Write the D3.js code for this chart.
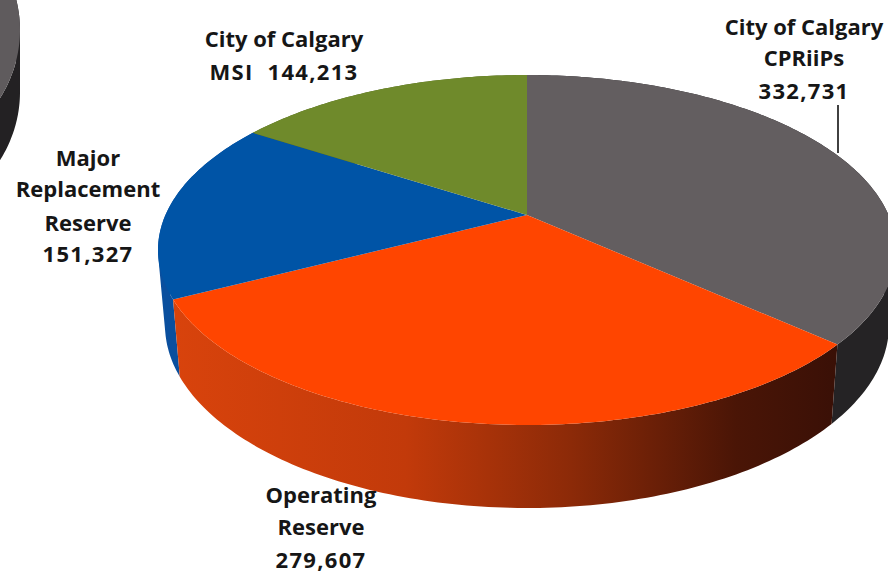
<!DOCTYPE html>
<html>
<head>
<meta charset="utf-8">
<script src="https://cdn.jsdelivr.net/npm/d3@7"></script>
<style>
html, body { margin: 0; padding: 0; background: #fff; }
svg { display: block; }
text { font-family: "Open Sans", sans-serif; font-weight: 700; font-size: 22px; fill: #161616; text-anchor: middle; }
</style>
</head>
<body>
<script>
const w = 888
const h = 573

const categories = ['City of Calgary CPRiiPs', 'Operating Reserve', 'Major Replacement Reserve', 'City of Calgary MSI']
const values = [332731, 279607, 151327, 144213]
const topColors = ['#635e60', '#ff4500', '#0054a6', '#6f8a2b']
const wallColors = ['#252325', 'url(#orangeWall)', '#0a4f9e', '#4d611e']

const labelLines = [
    ['City of Calgary', 'CPRiiPs', '332,731'],
    ['Operating', 'Reserve', '279,607'],
    ['Major', 'Replacement', 'Reserve', '151,327'],
    ['City of Calgary', 'MSI  144,213']
]
const labelX = [804, 321, 88, 284]
const labelY = [[35, 66, 99], [503, 535, 568], [166, 197, 231, 262], [47, 80]]

const svg = d3.select('body').append('svg').attr('width', w).attr('height', h)

const grad = svg.append('defs').append('linearGradient')
    .attr('id', 'orangeWall')
    .attr('gradientUnits', 'userSpaceOnUse')
    .attr('x1', 175).attr('x2', 835).attr('y1', 0).attr('y2', 0)
grad.selectAll('stop')
    .data([[0, '#d8430c'], [0.35, '#c23a0a'], [0.6, '#8c2a08'], [0.85, '#4a1506'], [1, '#3a1006']])
    .enter().append('stop')
    .attr('offset', d => d[0])
    .attr('stop-color', d => d[1])

// perspective view of a circle, so the pie centre sits above the middle of the ellipse
function project(e) {
    return a => {
        const u = Math.sin(a)
        const v = -Math.cos(a)
        const k = 1 - e.tilt * v
        return [e.cx + e.rx * Math.sqrt(1 - e.tilt * e.tilt) * u / k, e.cy + e.ry * (v - e.tilt) / k]
    }
}

function arcPoints(f, a0, a1) {
    const n = Math.ceil((a1 - a0) * 60)
    return d3.range(n + 1).map(i => f(a0 + (a1 - a0) * i / n))
}

const line = d3.line()

// one small quad per step, all wound the same way, so the silhouette has no notch
function wallPath(ft, fb, d) {
    const t = arcPoints(ft, d.startAngle, d.endAngle)
    const b = arcPoints(fb, d.startAngle, d.endAngle)
    return d3.range(t.length - 1).map(i => {
        const q = [t[i], t[i + 1], b[i + 1], b[i]]
        if (d3.polygonArea(q) < 0) q.reverse()
        return line(q) + 'Z'
    }).join('')
}

function drawPie(g, slices, top, base, tops, walls) {
    const ft = project(top)
    const fb = project(base)
    const apex = [top.cx, top.cy - top.ry * top.tilt]

    // walls from back to front, the front slice last
    const mid = d => Math.abs(Math.PI - (d.startAngle + d.endAngle) / 2)
    const order = slices.map((d, i) => i).sort((a, b) => mid(slices[b]) - mid(slices[a]))
    order.forEach(i => {
        g.append('path')
            .attr('d', wallPath(ft, fb, slices[i]))
            .attr('fill', walls[i])
    })

    slices.forEach((d, i) => {
        g.append('path')
            .attr('d', line([apex].concat(arcPoints(ft, d.startAngle, d.endAngle))) + 'Z')
            .attr('fill', tops[i])
    })
}

const pie = d3.pie().sort(null).value(d => d)

// edge of the neighbouring pie, only its rim is on the page
drawPie(svg.append('g'), pie([1]),
    { cx: -150, cy: 30, rx: 170, ry: 145, tilt: 0 },
    { cx: -150, cy: 92, rx: 170, ry: 145, tilt: 0 },
    ['#5f5b5d'], ['#232123'])

drawPie(svg.append('g'), pie(values),
    { cx: 527, cy: 250, rx: 369, ry: 175, tilt: 0.2 },
    { cx: 527, cy: 325, rx: 362, ry: 183, tilt: 0.2 },
    topColors, wallColors)

svg.append('line')
    .attr('x1', 838).attr('x2', 838)
    .attr('y1', 105).attr('y2', 153)
    .attr('stroke', '#111')
    .attr('stroke-width', 1.6)

labelLines.forEach((lines, i) => {
    svg.selectAll(null)
        .data(lines)
        .enter()
        .append('text')
        .attr('class', 'label')
        .style('white-space', 'pre')
        .style('letter-spacing', d => /\d/.test(d) ? '1.3px' : null)
        .attr('x', labelX[i])
        .attr('y', (d, j) => labelY[i][j])
        .text(d => d)
})
</script>
</body>
</html>
